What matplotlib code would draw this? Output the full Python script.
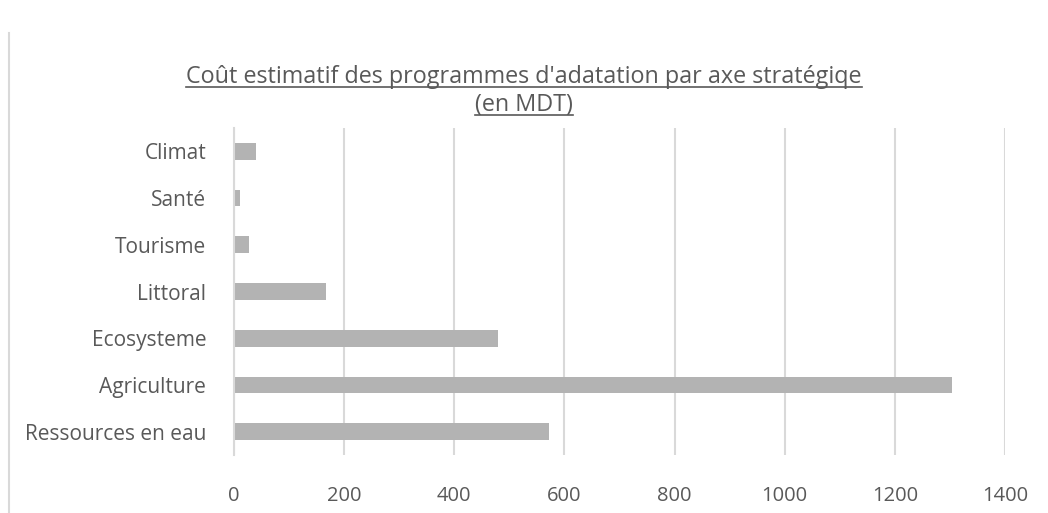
import matplotlib.pyplot as plt

# data
categories = ["Ressources en eau", "Agriculture", "Ecosysteme", "Littoral",
              "Tourisme", "Santé", "Climat"]
costs = [572, 1303, 480, 167, 27, 11, 40]
ticks = [0, 200, 400, 600, 800, 1000, 1200, 1400]

plt.rcParams['font.family'] = ['Open Sans', 'DejaVu Sans']

grey = '#595959'
W, H = 1048, 513
fig = plt.figure(figsize=(W / 100, H / 100), dpi=100)
ax = fig.add_axes([234 / W, 1 - 455 / H, (1005 - 234) / W, (455 - 128) / H])

ax.barh(range(len(categories)), costs, height=0.36, color='#b3b3b3', zorder=2)
ax.set_xlim(0, 1400)
ax.set_ylim(-0.5, len(categories) - 0.5)
ax.set_xticks(ticks)
ax.set_yticks(range(len(categories)))
ax.set_yticklabels(categories)
ax.grid(axis='x', color='#d9d9d9', linewidth=1.5, zorder=0)
for s in ['top', 'right', 'bottom']:
    ax.spines[s].set_visible(False)
ax.spines['left'].set_color('#d9d9d9')
ax.spines['left'].set_linewidth(1.5)
ax.tick_params(axis='both', length=0, colors=grey, labelsize=14.5)
ax.tick_params(axis='y', labelsize=15, pad=20)
ax.tick_params(axis='x', pad=22)

t1 = fig.text(0.5, 1 - 77 / H, "Coût estimatif des programmes d'adatation par axe stratégiqe",
              ha='center', va='center', fontsize=16.8, color=grey)
t2 = fig.text(0.5, 1 - 105 / H, "(en MDT)", ha='center', va='center', fontsize=16.8, color=grey)

# underline both title lines, using their drawn extents
fig.canvas.draw()
r = fig.canvas.get_renderer()
for t in (t1, t2):
    bb = t.get_window_extent(r)
    y = bb.y0 + 2
    fig.add_artist(plt.Line2D([bb.x0 / W, bb.x1 / W], [y / H] * 2, color=grey, lw=1.2))

# chart frame edge on the left
fig.add_artist(plt.Line2D([9 / W] * 2, [0, 1 - 33 / H], color='#d9d9d9', lw=1.5))

fig.savefig("out.png", dpi=100)
